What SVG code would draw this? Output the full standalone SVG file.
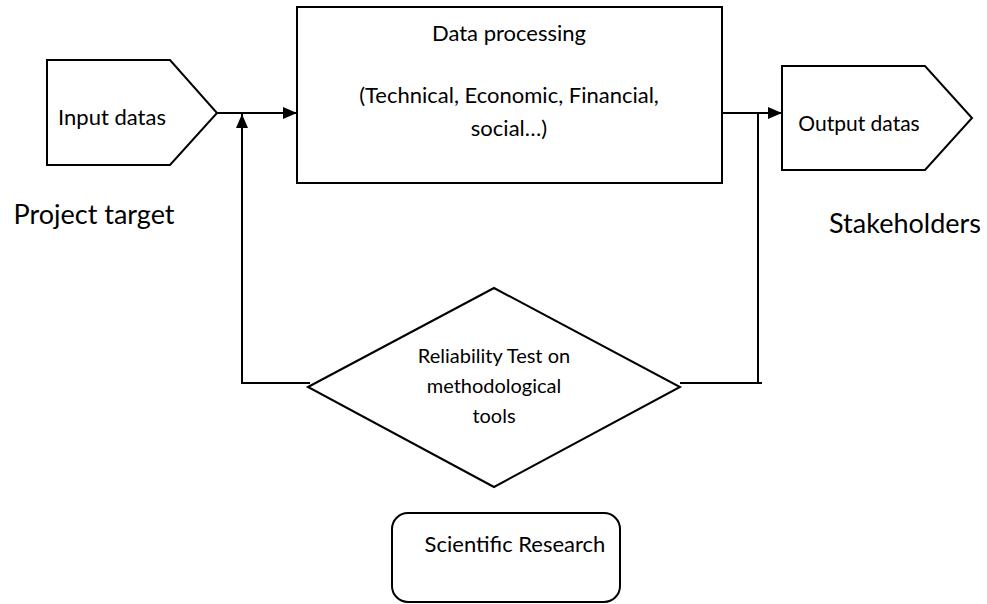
<svg xmlns="http://www.w3.org/2000/svg" width="987" height="604" viewBox="0 0 987 604">
<style>
.shape{fill:#fff;stroke:#000;stroke-width:2}
.conn{fill:none;stroke:#000;stroke-width:2}
text{font-family:Lato,"Liberation Sans",sans-serif;fill:#000;text-anchor:middle}
.t{font-size:22px}
.o{font-size:21px}
.s{font-size:20px}
.l{font-size:27px}
</style>
<defs>
<marker id="arr" markerUnits="userSpaceOnUse" markerWidth="14" markerHeight="14" viewBox="0 0 14 14" refX="14" refY="7" orient="auto">
<path d="M0,1 L14,7 L0,13 Z" fill="#000"/>
</marker>
</defs>
<rect width="987" height="604" fill="#fff"/>
<g id="connectors">
<line class="conn" x1="217" y1="113" x2="297" y2="113" marker-end="url(#arr)"/>
<line class="conn" x1="722" y1="113" x2="782" y2="113" marker-end="url(#arr)"/>
<polyline class="conn" points="680,383 762,383"/>
<line class="conn" x1="758" y1="383" x2="758" y2="113"/>
<polyline class="conn" points="310,383 242,383 242,114" marker-end="url(#arr)"/>
</g>
<g id="input">
<polygon class="shape" points="47,60 170,60 217,113 170,165 47,165"/>
<text class="t" x="112" y="125">Input datas</text>
</g>
<g id="processing">
<rect class="shape" x="297" y="7" width="425" height="176"/>
<text class="t" x="509" y="41">Data processing</text>
<text class="t" x="509" y="103">(Technical, Economic, Financial,</text>
<text class="t" x="509" y="136">social…)</text>
</g>
<g id="output">
<polygon class="shape" points="782,66 925,66 972,118 925,170 782,170"/>
<text class="o" x="859" y="131">Output datas</text>
</g>
<g id="reliability">
<polygon class="shape" points="308,387 494,288 680,387 494,487"/>
<text class="s" x="494" y="363">Reliability Test on</text>
<text class="s" x="494" y="393">methodological</text>
<text class="s" x="494" y="423">tools</text>
</g>
<g id="research">
<rect class="shape" x="392" y="513" width="228" height="89" rx="16"/>
<text class="t" x="515" y="552">Scientific Research</text>
</g>
<g id="project-target">
<text class="l" x="94" y="224">Project target</text>
</g>
<g id="stakeholders">
<text class="l" x="905" y="233">Stakeholders</text>
</g>
</svg>
